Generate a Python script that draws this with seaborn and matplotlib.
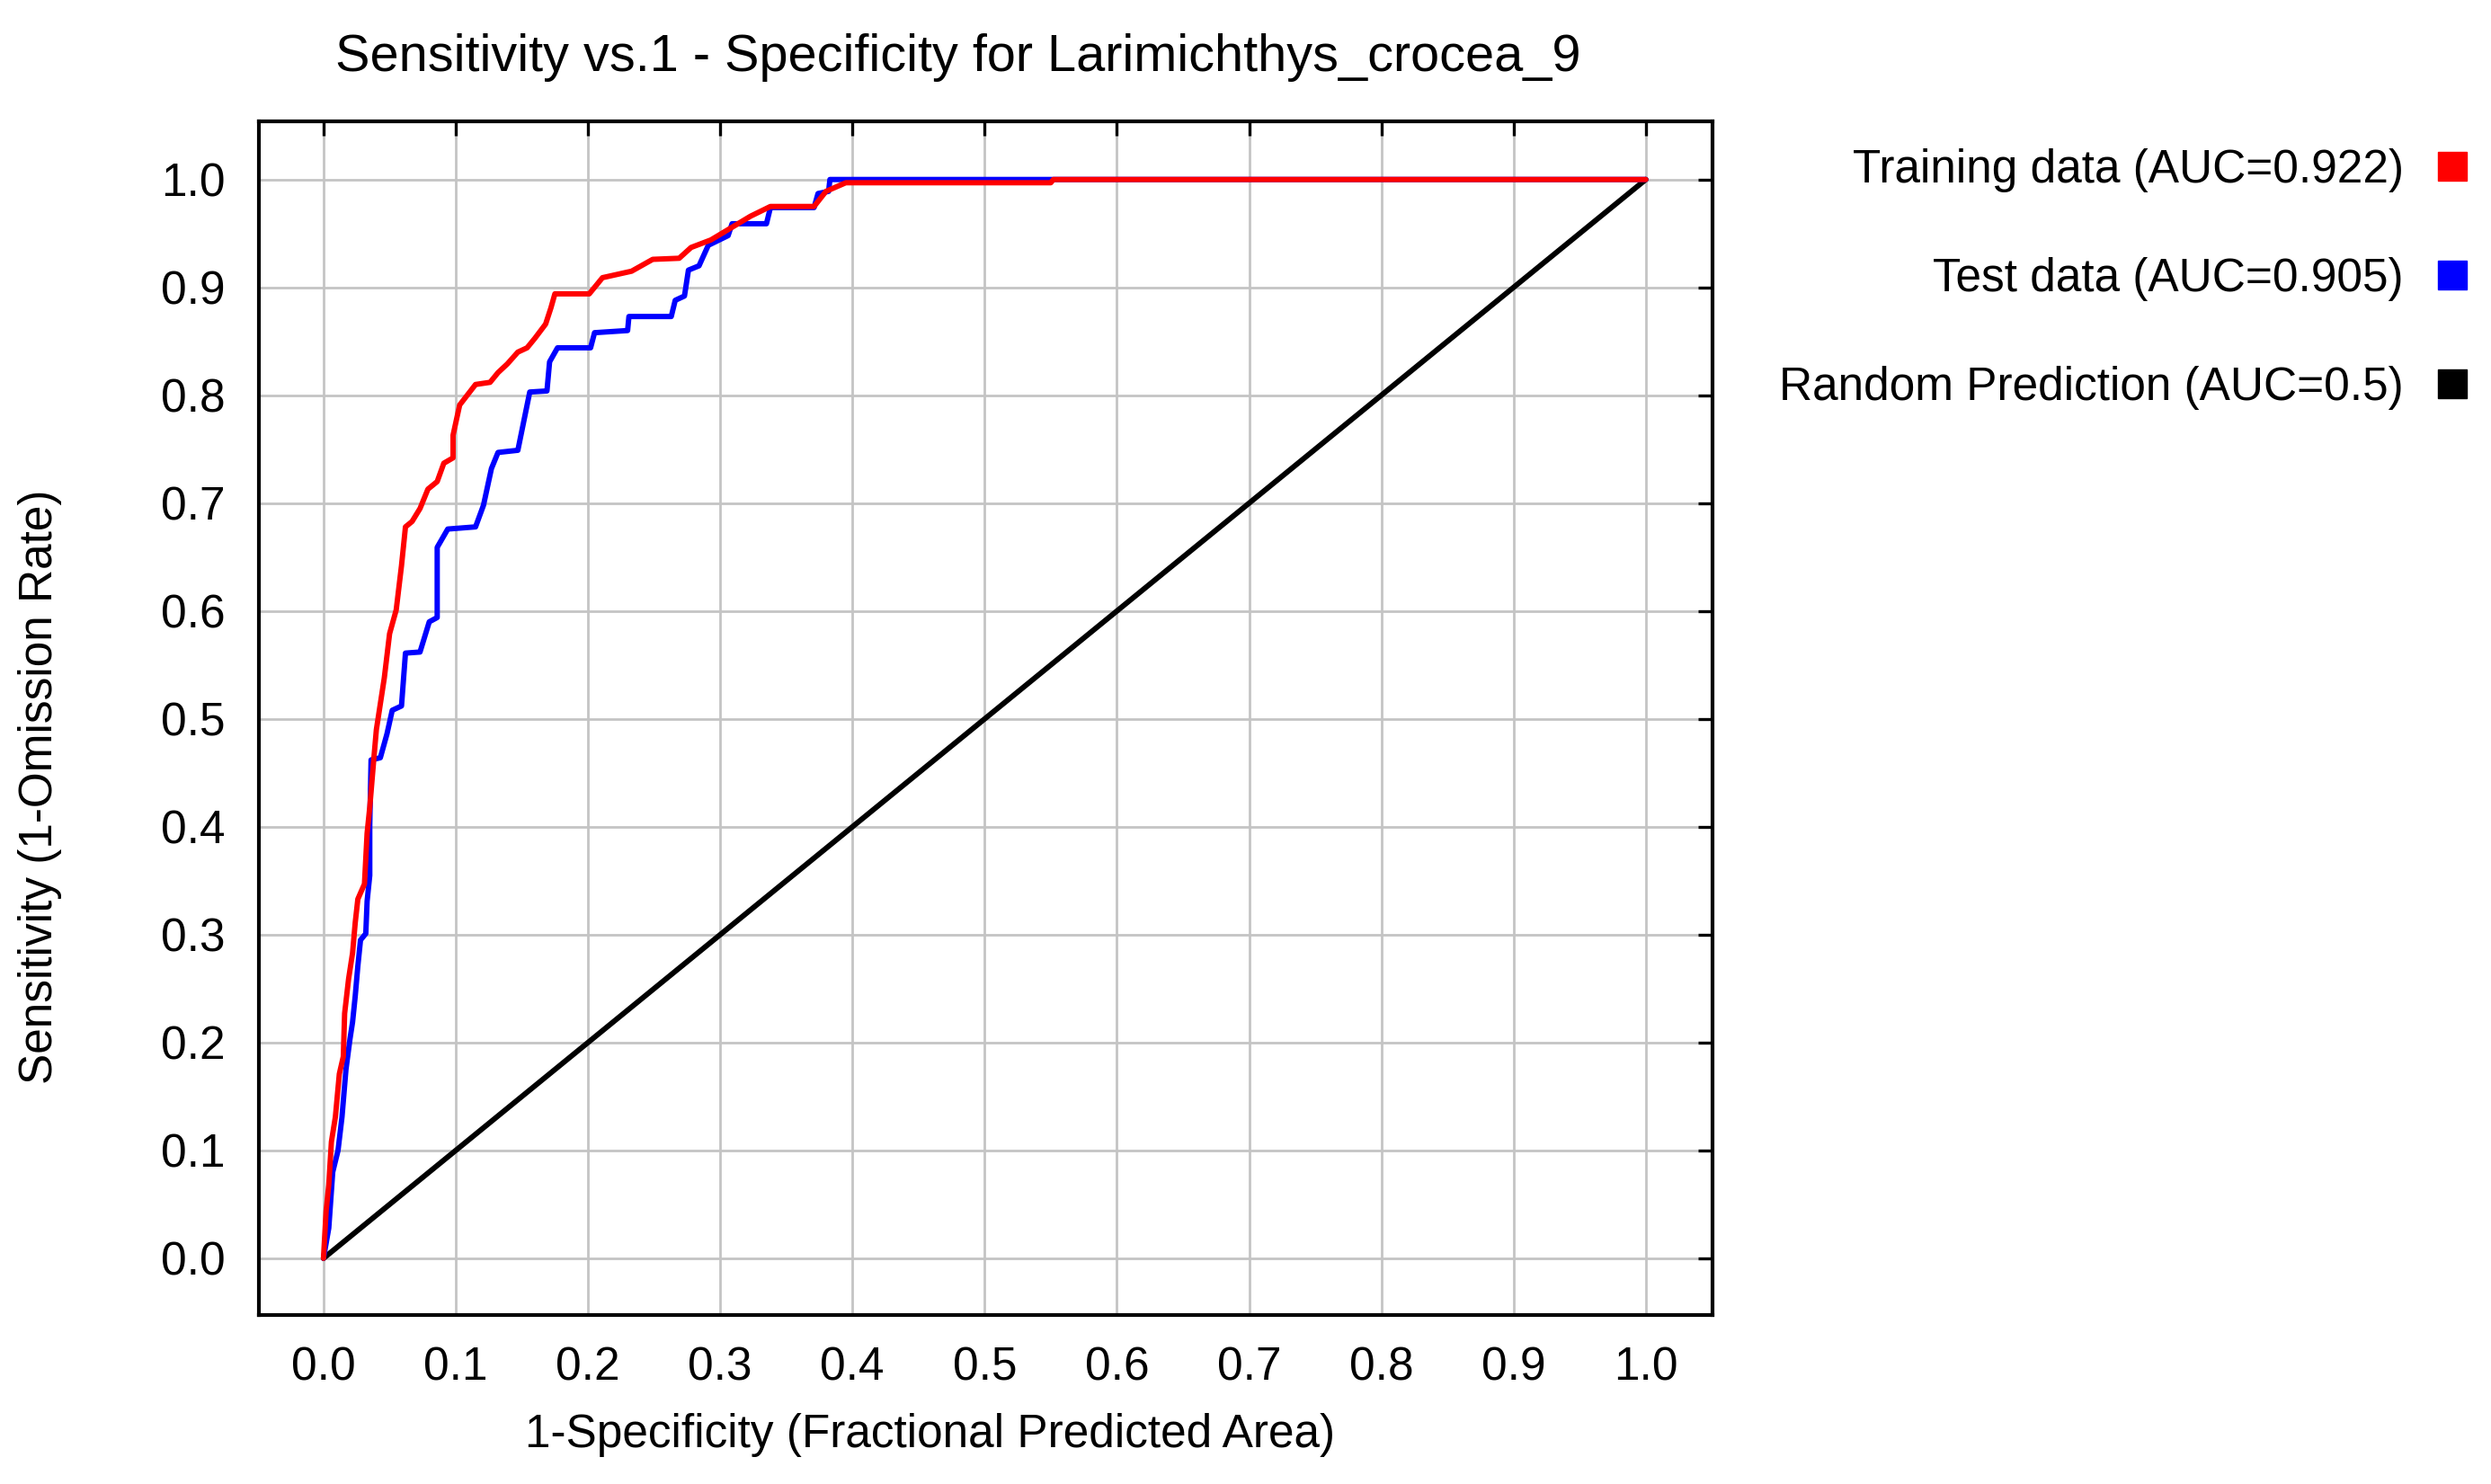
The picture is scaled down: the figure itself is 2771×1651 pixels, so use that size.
import numpy as np
import pandas as pd
import seaborn as sns
import matplotlib
matplotlib.use("Agg")
import matplotlib.pyplot as plt
from matplotlib.lines import Line2D

# ROC points
train_fpr = [0.0, 0.002, 0.004, 0.006, 0.009, 0.012, 0.015, 0.016, 0.019, 0.022,
             0.024, 0.026, 0.031, 0.033, 0.035, 0.038, 0.040, 0.043, 0.046, 0.050,
             0.055, 0.059, 0.062, 0.067, 0.073, 0.079, 0.086, 0.091, 0.098, 0.098,
             0.103, 0.115, 0.126, 0.132, 0.139, 0.147, 0.154, 0.160, 0.168, 0.172,
             0.175, 0.201, 0.211, 0.233, 0.249, 0.269, 0.278, 0.293, 0.308, 0.323,
             0.338, 0.371, 0.380, 0.395, 0.550, 0.552, 1.0]
train_tpr = [0.0, 0.044, 0.068, 0.108, 0.131, 0.171, 0.187, 0.227, 0.259, 0.283,
             0.311, 0.333, 0.347, 0.394, 0.418, 0.462, 0.490, 0.514, 0.538, 0.579,
             0.601, 0.642, 0.678, 0.683, 0.695, 0.713, 0.720, 0.737, 0.742, 0.763,
             0.791, 0.810, 0.812, 0.821, 0.829, 0.840, 0.844, 0.853, 0.866, 0.881,
             0.894, 0.894, 0.909, 0.915, 0.926, 0.927, 0.937, 0.944, 0.955, 0.966,
             0.975, 0.975, 0.989, 0.997, 0.997, 1.0, 1.0]

test_fpr = [0.0, 0.004, 0.007, 0.011, 0.014, 0.017, 0.020, 0.022, 0.024, 0.026,
            0.028, 0.032, 0.033, 0.035, 0.035, 0.036, 0.043, 0.048, 0.052, 0.059,
            0.062, 0.073, 0.080, 0.086, 0.086, 0.094, 0.115, 0.121, 0.127, 0.132,
            0.147, 0.151, 0.156, 0.169, 0.171, 0.177, 0.202, 0.205, 0.230, 0.231,
            0.263, 0.266, 0.273, 0.276, 0.284, 0.291, 0.306, 0.309, 0.335, 0.338,
            0.371, 0.374, 0.382, 0.383, 1.0]
test_tpr = [0.0, 0.028, 0.080, 0.100, 0.131, 0.175, 0.203, 0.219, 0.243, 0.271,
            0.295, 0.301, 0.331, 0.355, 0.402, 0.462, 0.464, 0.486, 0.508, 0.512,
            0.561, 0.562, 0.590, 0.594, 0.659, 0.676, 0.678, 0.698, 0.732, 0.747,
            0.749, 0.773, 0.803, 0.804, 0.831, 0.844, 0.844, 0.858, 0.860, 0.873,
            0.873, 0.888, 0.892, 0.916, 0.920, 0.939, 0.948, 0.959, 0.959, 0.974,
            0.974, 0.987, 0.989, 1.0, 1.0]

random_fpr = [0.0, 1.0]
random_tpr = [0.0, 1.0]

legend_labels = ["Training data (AUC=0.922)", "Test data (AUC=0.905)",
                 "Random Prediction (AUC=0.5)"]
ticks = np.round(np.arange(0, 1.01, 0.1), 1)

sns.set_style("white")
plt.rcParams["font.family"] = ["Liberation Sans", "DejaVu Sans"]
plt.rcParams["text.color"] = "black"
plt.rcParams["xtick.color"] = "black"
plt.rcParams["ytick.color"] = "black"

fig = plt.figure(figsize=(27.71, 16.51), dpi=100)
ax = fig.add_axes([0.1039, 0.1139, 0.5835, 0.8044])

train = pd.DataFrame({"fpr": train_fpr, "tpr": train_tpr})
test = pd.DataFrame({"fpr": test_fpr, "tpr": test_tpr})
rnd = pd.DataFrame({"fpr": random_fpr, "tpr": random_tpr})

sns.lineplot(data=rnd, x="fpr", y="tpr", color="black", linewidth=4.3, ax=ax,
             estimator=None, sort=False, zorder=3)
sns.lineplot(data=test, x="fpr", y="tpr", color="#0000ff", linewidth=4.3, ax=ax,
             estimator=None, sort=False, zorder=4)
sns.lineplot(data=train, x="fpr", y="tpr", color="#ff0000", linewidth=4.3, ax=ax,
             estimator=None, sort=False, zorder=5)

ax.set_xlim(-0.0489, 1.0503)
ax.set_ylim(-0.0525, 1.054)
ax.set_xticks(ticks)
ax.set_yticks(ticks)
ax.set_xticklabels([f"{t:.1f}" for t in ticks])
ax.set_yticklabels([f"{t:.1f}" for t in ticks])
ax.grid(True, color="#c4c4c4", lw=2.0, zorder=0)
ax.set_axisbelow(True)
ax.tick_params(direction="in", length=11.5, width=2.4, top=True, right=True,
               labelsize=37, color="black", labelcolor="black")
ax.tick_params(axis="x", pad=25)
ax.tick_params(axis="y", pad=27)
for s in ax.spines.values():
    s.set_linewidth(3.0)
    s.set_color("black")
ax.set_xlabel("")
ax.set_ylabel("")

fig.text(0.3847, 0.961, "Sensitivity vs.1 - Specificity for Larimichthys_crocea_9",
         fontsize=41.5, ha="center", va="center")
fig.text(0.3735, 0.0333, "1-Specificity (Fractional Predicted Area)",
         fontsize=37, ha="center", va="center")
fig.text(0.0159, 0.47, "Sensitivity (1-Omission Rate)", fontsize=37,
         rotation=90, ha="center", va="center")

handles = [Line2D([], [], ls="none", marker="s", markersize=23, color=c)
           for c in ["#ff0000", "#0000ff", "black"]]
fig.legend(handles, legend_labels, loc="upper right", bbox_to_anchor=(0.990, 0.900),
           frameon=False, markerfirst=False, fontsize=37, handlelength=0.6,
           handletextpad=0.75, labelspacing=1.4, borderpad=0, borderaxespad=0)

fig.savefig("out.png", dpi=100, facecolor="white")
